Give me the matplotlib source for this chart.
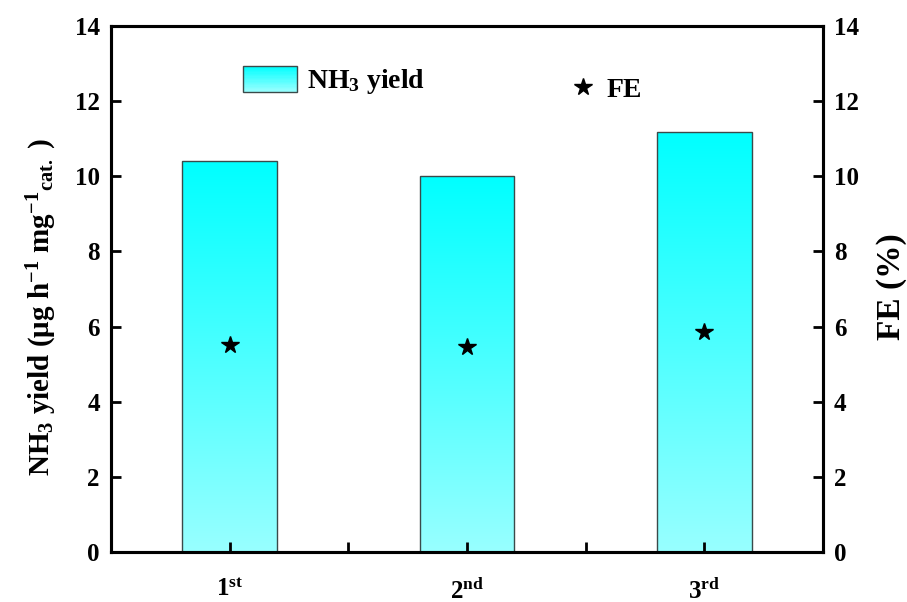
import numpy as np
import matplotlib
matplotlib.use("Agg")
import matplotlib.pyplot as plt
from matplotlib.patches import Rectangle
from matplotlib.legend_handler import HandlerBase
from matplotlib.lines import Line2D
from matplotlib.colors import LinearSegmentedColormap

# ---- data ----
cycles = ["1$^{\\mathrm{st}}$", "2$^{\\mathrm{nd}}$", "3$^{\\mathrm{rd}}$"]
nh3_yield = [10.4, 10.0, 11.18]
fe = [5.52, 5.45, 5.86]
yticks = [0, 2, 4, 6, 8, 10, 12, 14]

plt.rcParams["font.family"] = ["Liberation Serif", "DejaVu Serif"]
plt.rcParams["font.weight"] = "bold"
plt.rcParams["axes.labelweight"] = "bold"
plt.rcParams["mathtext.fontset"] = "custom"
plt.rcParams["mathtext.rm"] = "Liberation Serif:bold"
plt.rcParams["mathtext.it"] = "Liberation Serif:italic:bold"
plt.rcParams["mathtext.bf"] = "Liberation Serif:bold"
plt.rcParams["mathtext.default"] = "rm"

top_c = "#00FFFF"
bot_c = "#98FFFF"
cmap = LinearSegmentedColormap.from_list("cy", [bot_c, top_c])

fig = plt.figure(figsize=(9.07, 6.02), dpi=100)
ax = fig.add_axes([111/907, 50/602, 712/907, 526/602])
ax2 = ax.twinx()

x = np.arange(1, len(cycles) + 1)
width = 0.4
bars = ax.bar(x, nh3_yield, width=width, facecolor="none", edgecolor="#3a4a4a",
              linewidth=1.0, zorder=1.5)
grad = np.linspace(0, 1, 256).reshape(-1, 1)
for b in bars:
    x0, y0 = b.get_x(), b.get_y()
    w, h = b.get_width(), b.get_height()
    im = ax.imshow(grad, cmap=cmap, origin="lower", aspect="auto",
                   extent=[x0, x0 + w, y0, y0 + h], zorder=1)
    im.set_clip_path(b)

ax2.plot(x, fe, linestyle="none", marker="*", markersize=13, color="black", zorder=5)

ax.set_xlim(0.5, 3.5)
ax.set_ylim(0, 14)
ax2.set_ylim(0, 14)
ax.set_xticks(x)
ax.set_xticks([1.5, 2.5], minor=True)
ax.set_xticklabels(cycles, fontsize=18)
ax.set_yticks(yticks)
ax2.set_yticks(yticks)
ax.set_yticklabels([str(v) for v in yticks], fontsize=18)
ax2.set_yticklabels([str(v) for v in yticks], fontsize=18)

for a in (ax, ax2):
    for s in a.spines.values():
        s.set_linewidth(2.2)
ax.tick_params(axis="y", which="both", direction="in", width=2, length=7, pad=8)
ax.tick_params(axis="x", which="both", direction="in", width=2, length=7, pad=19)
ax2.tick_params(axis="y", direction="in", width=2, length=7, pad=8)

ax.set_ylabel("NH$_3$ yield (μg h$^{\\mathrm{-1}}$ mg$^{\\mathrm{-1}}$$_{\\mathrm{cat.}}$ )",
              fontsize=21, fontweight="bold", labelpad=11)
ax.yaxis.label.set_y(0.466)
ax2.set_ylabel("FE (%)", fontsize=24, fontweight="bold", labelpad=12)
ax2.yaxis.label.set_y(0.505)


class GradHandler(HandlerBase):
    def create_artists(self, legend, orig_handle, xdescent, ydescent, width, height,
                       fontsize, trans):
        arts = []
        n = 20
        for i in range(n):
            c = cmap(i / (n - 1))
            r = Rectangle((-xdescent, -ydescent + height * i / n), width, height / n + 0.3,
                          facecolor=c, edgecolor="none", transform=trans)
            arts.append(r)
        arts.append(Rectangle((-xdescent, -ydescent), width, height, facecolor="none",
                              edgecolor="#3a4a4a", linewidth=1.0, transform=trans))
        return arts


h1 = Rectangle((0, 0), 1, 1)
leg1 = ax2.legend([h1], ["NH$_3$ yield"], handler_map={Rectangle: GradHandler()},
                  loc="center left", bbox_to_anchor=(0.1854, 0.895), frameon=False,
                  borderpad=0, borderaxespad=0, handlelength=1.95, handleheight=1.05,
                  handletextpad=0.36, prop={"size": 20, "weight": "bold"})
ax2.add_artist(leg1)
h2 = Line2D([], [], linestyle="none", marker="*", markersize=13, color="black")
leg2 = ax2.legend([h2], ["FE"], loc="center left", bbox_to_anchor=(0.643, 0.878),
                  frameon=False, borderpad=0, borderaxespad=0, handlelength=1.0,
                  handletextpad=0.36, prop={"size": 20, "weight": "bold"})

fig.savefig("out.png", dpi=100)
